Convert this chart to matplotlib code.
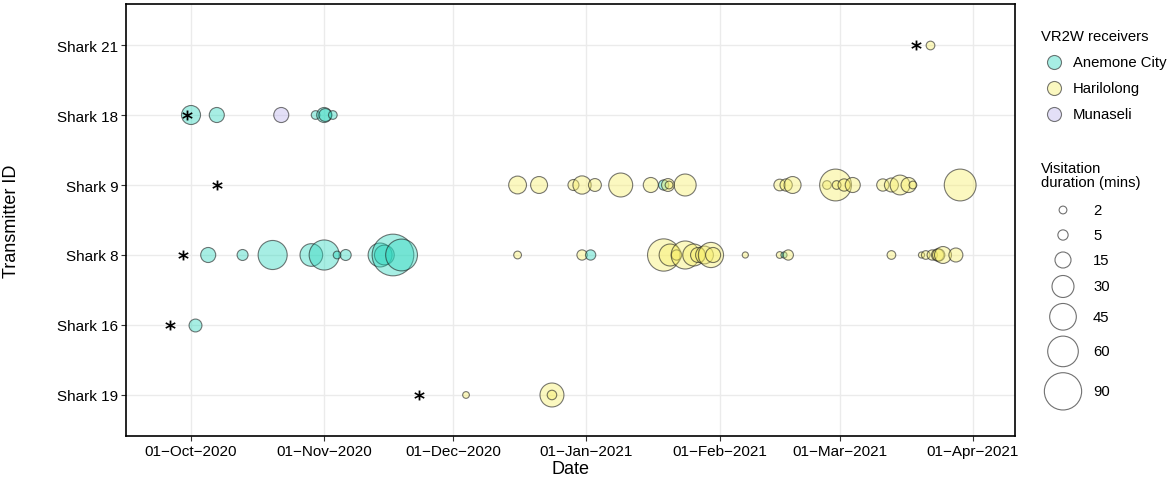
import matplotlib
matplotlib.use('Agg')
import matplotlib.pyplot as plt
import matplotlib.dates as mdates
from matplotlib.ticker import FuncFormatter
from matplotlib.colors import to_rgba
import pandas as pd
import numpy as np

plt.rcParams['font.family'] = ['Liberation Sans', 'DejaVu Sans']

# ---------------- data ----------------
sharks = ['Shark 19', 'Shark 16', 'Shark 8', 'Shark 9', 'Shark 18', 'Shark 21']
receivers = ['Anemone City', 'Harilolong', 'Munaseli']
receiver_colors = ['#2ED8BF', '#F7EF6A', '#BDB5EE']
legend_minutes = [2, 5, 15, 30, 45, 60, 90]

A, H, M = 'Anemone City', 'Harilolong', 'Munaseli'

shark21_dates = ['2021-03-22']
shark21_recv = [H]
shark21_mins = [3]

shark18_dates = ['2020-10-01', '2020-10-07', '2020-10-22', '2020-10-30',
                 '2020-11-01', '2020-11-01 06:00', '2020-11-03']
shark18_recv = [A, A, M, A, A, A, A]
shark18_mins = [22, 13, 13, 3, 13, 9, 3]

shark9_dates = ['2020-12-16', '2020-12-21', '2020-12-29', '2020-12-31', '2021-01-03',
                '2021-01-09', '2021-01-16', '2021-01-19', '2021-01-20', '2021-01-20 06:00',
                '2021-01-24', '2021-02-15', '2021-02-16 12:00', '2021-02-18', '2021-02-26',
                '2021-02-28', '2021-02-28 06:00', '2021-03-02', '2021-03-04', '2021-03-11',
                '2021-03-13', '2021-03-15', '2021-03-17', '2021-03-18', '2021-03-29']
shark9_recv = [H, H, H, H, H, H, H, A, H, H, H, H, H, H, H, H, H, H, H, H, H, H, H, H, H]
shark9_mins = [19, 17, 6, 20, 9, 36, 13, 5, 9, 2, 30, 7, 8, 17, 3,
               65, 3, 8, 13, 8, 11, 24, 13, 2, 65]

shark8_dates = ['2020-10-05', '2020-10-13', '2020-10-20', '2020-10-29', '2020-11-01',
                '2020-11-04', '2020-11-06', '2020-11-14', '2020-11-15', '2020-11-17',
                '2020-11-19', '2020-12-16', '2020-12-31', '2021-01-02', '2021-01-19',
                '2021-01-20 12:00', '2021-01-22', '2021-01-24', '2021-01-26', '2021-01-27',
                '2021-01-28 12:00', '2021-01-30', '2021-01-30 12:00', '2021-02-07',
                '2021-02-15', '2021-02-16', '2021-02-17', '2021-03-13', '2021-03-20',
                '2021-03-21', '2021-03-22 12:00', '2021-03-23 18:00', '2021-03-24',
                '2021-03-25', '2021-03-28']
shark8_recv = [A, A, A, A, A, A, A, A, A, A, A, H, H, A, H, H, H, H, H, H,
               H, H, H, H, H, A, H, H, H, H, H, H, H, H, H]
shark8_mins = [13, 6, 54, 32, 58, 2, 6, 36, 24, 113, 65, 2, 5, 5, 67,
               30, 5, 50, 30, 13, 19, 40, 13, 0.5, 1, 0.5, 5, 3, 0.5,
               3, 5, 8, 8, 17, 11]

shark16_dates = ['2020-10-02']
shark16_recv = [A]
shark16_mins = [9]

shark19_dates = ['2020-12-04', '2020-12-24', '2020-12-24']
shark19_recv = [H, H, H]
shark19_mins = [1, 36, 4]

star_sharks = ['Shark 21', 'Shark 18', 'Shark 9', 'Shark 8', 'Shark 16', 'Shark 19']
star_dates = ['2021-03-18 16:00', '2020-09-30', '2020-10-07', '2020-09-29 02:00',
              '2020-09-26', '2020-11-23']

detections = {
    'Shark 21': (shark21_dates, shark21_recv, shark21_mins),
    'Shark 18': (shark18_dates, shark18_recv, shark18_mins),
    'Shark 9': (shark9_dates, shark9_recv, shark9_mins),
    'Shark 8': (shark8_dates, shark8_recv, shark8_mins),
    'Shark 16': (shark16_dates, shark16_recv, shark16_mins),
    'Shark 19': (shark19_dates, shark19_recv, shark19_mins),
}

# ---------------- styling helpers ----------------
FILL_ALPHA = 0.42
EDGE = (0.12, 0.12, 0.12, 0.6)
col_of = {r: c for r, c in zip(receivers, receiver_colors)}


def to_num(dates):
    return mdates.date2num(pd.to_datetime(pd.Series(dates), format='ISO8601'))


def size_pt2(minutes):
    d_px = np.sqrt(30 + 15.1 * np.asarray(minutes, dtype=float))
    return (d_px * 0.72) ** 2


W, Hgt = 1170, 481
fig = plt.figure(figsize=(W / 100, Hgt / 100), dpi=100)
ax = fig.add_axes([126 / W, 1 - 437 / Hgt, (1015 - 126) / W, (437 - 5) / Hgt])

ypos = {s: i for i, s in enumerate(sharks)}

for shark in ['Shark 21', 'Shark 18', 'Shark 9', 'Shark 8', 'Shark 16', 'Shark 19']:
    dates, recv, mins = detections[shark]
    x = to_num(dates)
    y = np.full(len(x), ypos[shark], dtype=float)
    fc = [to_rgba(col_of[r], FILL_ALPHA) for r in recv]
    ax.scatter(x, y, s=size_pt2(mins), facecolors=fc, edgecolors=[EDGE],
               linewidths=0.8, zorder=3)

sx = to_num(star_dates)
sy = [ypos[s] for s in star_sharks]
ax.scatter(sx, sy, marker=r'$\mathbf{*}$', s=55, c='black', linewidths=0, zorder=4)

# axes limits / ticks
origin = pd.Timestamp('2020-10-01')
ax.set_xlim(mdates.date2num(origin - pd.Timedelta(days=15.13)),
            mdates.date2num(origin + pd.Timedelta(days=191.76)))
ax.set_ylim(-0.586, len(sharks) - 1 + 0.586)
ax.set_yticks(range(len(sharks)))
ax.set_yticklabels(sharks)

ax.xaxis.set_major_locator(mdates.MonthLocator(bymonthday=1))
ax.xaxis.set_major_formatter(
    FuncFormatter(lambda v, p: mdates.num2date(v).strftime('%d-%b-%Y').replace('-', '\u2212')))

ax.tick_params(axis='both', length=3.5, width=0.8, color='#333333',
               labelsize=11, labelcolor='black', pad=2)
ax.grid(True, color='#ebebeb', linewidth=1.0)
ax.set_axisbelow(True)
for sp in ax.spines.values():
    sp.set_color('black')
    sp.set_linewidth(1.2)

fig.text(12 / W, 1 - 221 / Hgt, 'Transmitter ID', rotation=90, ha='center',
         va='center', fontsize=13)
fig.text(570.5 / W, 1 - 470 / Hgt, 'Date', ha='center', va='center', fontsize=13)

# ---------------- legends (drawn in pixel space) ----------------
lax = fig.add_axes([0, 0, 1, 1], zorder=5)
lax.set_xlim(0, W)
lax.set_ylim(Hgt, 0)
lax.axis('off')
lax.patch.set_alpha(0)

LFS = 10.7
lax.text(1041, 37, 'VR2W receivers', ha='left', va='center', fontsize=LFS)
key_y0, key_step = 63, 26
for i, (r, c) in enumerate(zip(receivers, receiver_colors)):
    yy = key_y0 + i * key_step
    lax.scatter([1054], [yy], s=(14 * 0.72) ** 2, facecolors=[to_rgba(c, FILL_ALPHA)],
                edgecolors=[EDGE], linewidths=0.8)
    lax.text(1073, yy, r, ha='left', va='center', fontsize=LFS)

lax.text(1041, 176, 'Visitation\nduration (mins)', ha='left', va='center',
         fontsize=LFS, linespacing=1.05)

diam = np.sqrt(30 + 15.1 * np.asarray(legend_minutes, dtype=float))
heights = np.maximum(25, diam + 6)
yy = 211.0
for i, m in enumerate(legend_minutes):
    if i > 0:
        yy += (heights[i - 1] + heights[i]) / 2
    lax.scatter([1063], [yy], s=size_pt2([m]), facecolors='none',
                edgecolors=[(0.3, 0.3, 0.3, 0.8)], linewidths=0.8)
    lax.text(1093, yy, str(m), ha='left', va='center', fontsize=LFS)

fig.savefig('out.png', dpi=100)
